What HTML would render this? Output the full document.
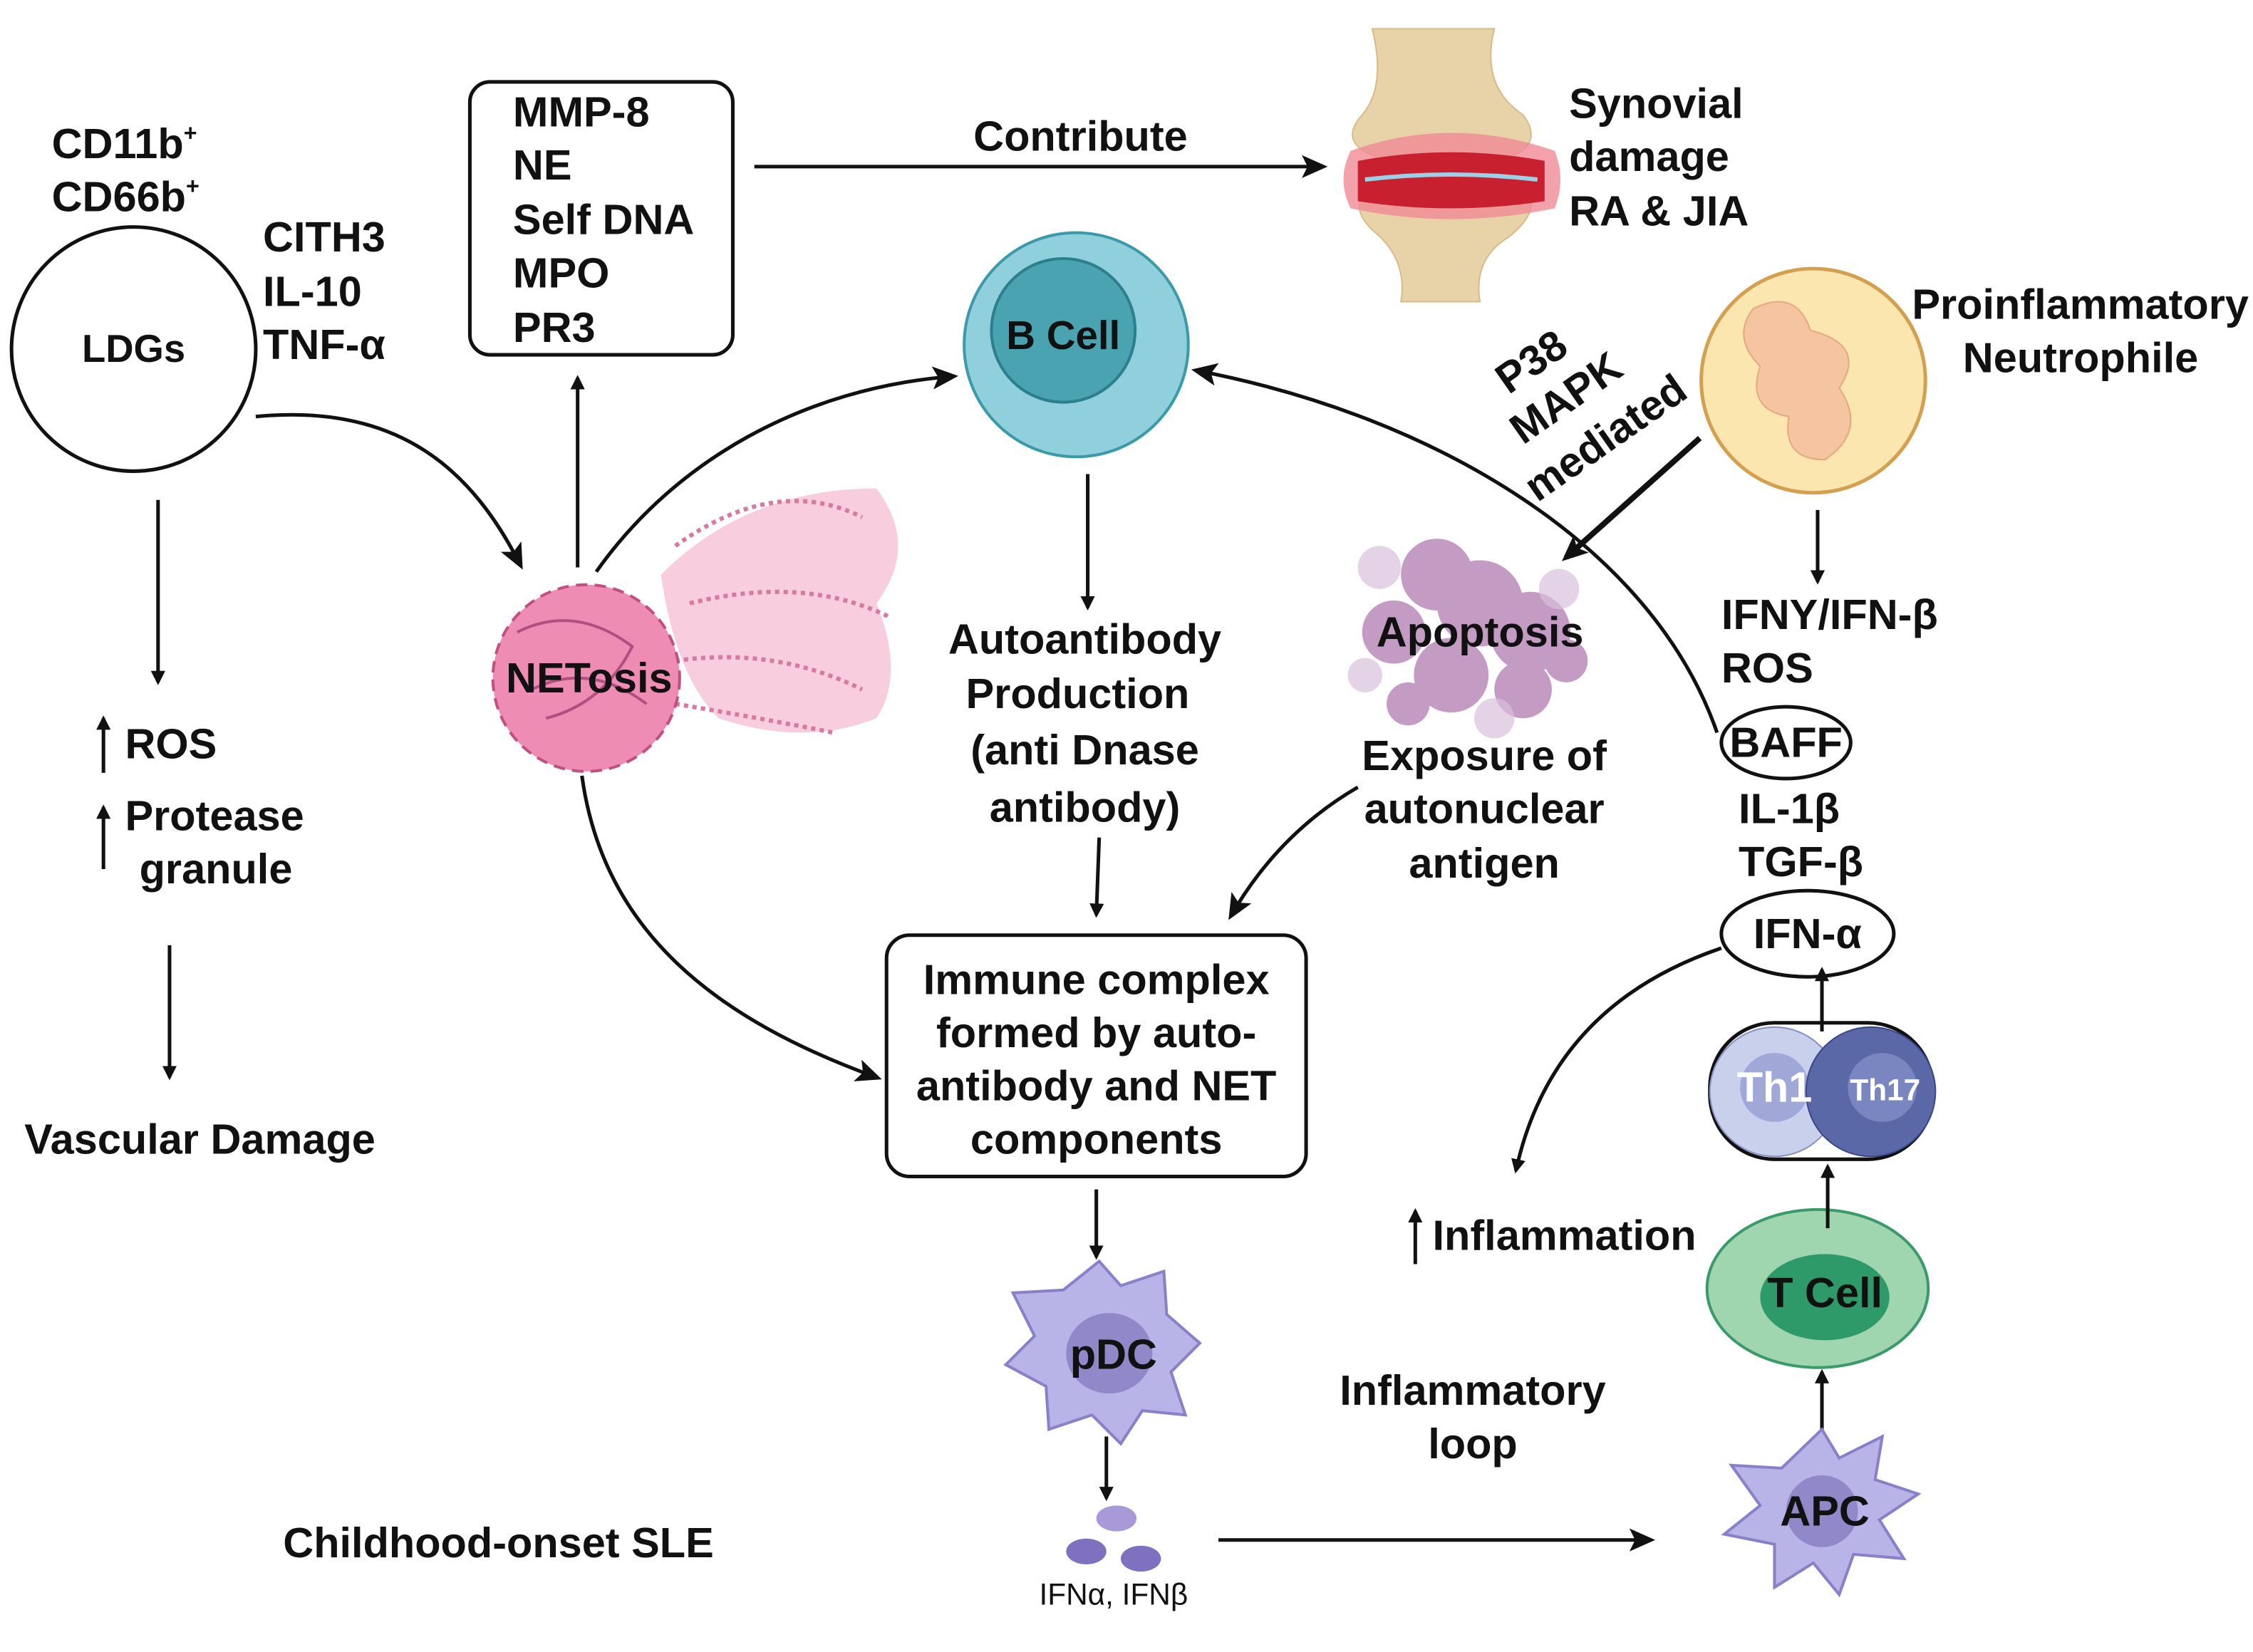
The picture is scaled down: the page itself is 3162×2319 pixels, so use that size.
<!DOCTYPE html>
<html><head><meta charset="utf-8"><style>
html,body{margin:0;padding:0;background:#fff}
svg{display:block}
text{font-family:"Liberation Sans",sans-serif;font-weight:bold;fill:#111}
</style></head><body>
<svg width="3162" height="2319" viewBox="0 0 1568 1150" preserveAspectRatio="none" xmlns="http://www.w3.org/2000/svg">
<defs>
<marker id="a" markerWidth="10" markerHeight="10" refX="8" refY="5" orient="auto" markerUnits="userSpaceOnUse" viewBox="0 0 10 10">
<path d="M0,0 L10,5 L0,10 z" fill="#111"/></marker>
<marker id="b" markerWidth="18" markerHeight="18" refX="14" refY="9" orient="auto" markerUnits="userSpaceOnUse" viewBox="0 0 18 18">
<path d="M0,1 L18,9 L0,17 L4,9 z" fill="#111"/></marker>
</defs>
<g font-size="29.5">
<text x="36" y="110">CD11b<tspan font-size="16" dy="-12">+</tspan></text>
<text x="36" y="147">CD66b<tspan font-size="16" dy="-12">+</tspan></text>
<circle cx="93" cy="243" r="85" fill="#fff" stroke="#111" stroke-width="2.5"/>
<text x="93" y="252" text-anchor="middle" font-size="27">LDGs</text>
<text x="183" y="175">CITH3</text>
<text x="183" y="213">IL-10</text>
<text x="183" y="250">TNF-α</text>
<rect x="327" y="57" width="183" height="190" rx="14" fill="#fff" stroke="#111" stroke-width="2.5"/>
<text x="357" y="88">MMP-8</text>
<text x="357" y="125">NE</text>
<text x="357" y="163">Self DNA</text>
<text x="357" y="200">MPO</text>
<text x="357" y="238">PR3</text>
<line x1="525" y1="116" x2="920" y2="116" stroke="#111" stroke-width="2.5" marker-end="url(#b)"/>
<text x="752" y="105" text-anchor="middle">Contribute</text>
<path d="M955,20 L1040,20 Q1030,60 1060,80 Q1075,100 1050,110 L960,110 Q930,100 948,80 Q965,60 955,20z" fill="#e8d2a8" stroke="#d9bb8a"/>
<path d="M960,130 L1060,130 Q1075,145 1050,165 Q1025,180 1030,210 L975,210 Q980,180 955,160 Q935,140 960,130z" fill="#e8d2a8" stroke="#d9bb8a"/>
<path d="M940,105 Q1010,80 1082,105 Q1090,125 1082,145 Q1010,160 940,145 Q930,125 940,105z" fill="#f08a96" opacity="0.8"/>
<path d="M945,112 Q1010,100 1075,112 L1075,140 Q1010,150 945,140z" fill="#c8202e"/>
<path d="M950,125 Q1010,118 1070,125" stroke="#9ad0e8" stroke-width="3" fill="none"/>
<text x="1092" y="82">Synovial</text>
<text x="1092" y="119">damage</text>
<text x="1092" y="157">RA &amp; JIA</text>
<circle cx="749" cy="240" r="78" fill="#8fd0dc" stroke="#3a9aaa" stroke-width="2"/>
<circle cx="740" cy="230" r="50" fill="#4aa3b0" stroke="#2c7f8c" stroke-width="2"/>
<text x="740" y="243" text-anchor="middle" font-size="28">B Cell</text>
<circle cx="1262" cy="265" r="78" fill="#fbe6b0" stroke="#d4a050" stroke-width="2.5"/>
<path d="M1220,215 Q1250,200 1260,230 Q1300,240 1280,270 Q1300,300 1270,320 Q1240,320 1245,290 Q1215,285 1225,255 Q1205,235 1220,215z" fill="#f5c4a0" stroke="#e5a880"/>
<text x="1565" y="222" text-anchor="end">Proinflammatory</text>
<text x="1448" y="259" text-anchor="middle">Neutrophile</text>
<text x="1050" y="275" transform="rotate(-35 1050 275)">P38</text>
<text x="1060" y="310" transform="rotate(-35 1060 310)">MAPK</text>
<text x="1070" y="350" transform="rotate(-35 1070 350)">mediated</text>
<line x1="1183" y1="305" x2="1090" y2="388" stroke="#111" stroke-width="4" marker-end="url(#b)"/>
<g fill="#b07ab0" opacity="0.75">
<circle cx="1000" cy="400" r="25"/><circle cx="1030" cy="420" r="30"/><circle cx="1065" cy="440" r="28"/><circle cx="970" cy="440" r="22"/><circle cx="1010" cy="470" r="26"/><circle cx="1060" cy="480" r="20"/><circle cx="980" cy="490" r="15"/><circle cx="1090" cy="460" r="15"/>
</g>
<g fill="#d8c0dc" opacity="0.7"><circle cx="960" cy="395" r="15"/><circle cx="1085" cy="410" r="14"/><circle cx="950" cy="470" r="12"/><circle cx="1040" cy="500" r="14"/></g>
<text x="1030" y="450" text-anchor="middle">Apoptosis</text>
<text x="1033" y="536" text-anchor="middle">Exposure of</text>
<text x="1033" y="573" text-anchor="middle">autonuclear</text>
<text x="1033" y="611" text-anchor="middle">antigen</text>
<path d="M945,548 Q890,580 857,637" fill="none" stroke="#111" stroke-width="2.5" marker-end="url(#b)"/>
<line x1="1265" y1="355" x2="1265" y2="405" stroke="#111" stroke-width="2.5" marker-end="url(#a)"/>
<text x="1198" y="438">IFNY/IFN-β</text>
<text x="1198" y="475">ROS</text>
<ellipse cx="1243" cy="517" rx="45" ry="25" fill="#fff" stroke="#111" stroke-width="2.5"/>
<text x="1243" y="527" text-anchor="middle">BAFF</text>
<text x="1210" y="573">IL-1β</text>
<text x="1210" y="610">TGF-β</text>
<ellipse cx="1258" cy="650" rx="60" ry="30" fill="#fff" stroke="#111" stroke-width="2.5"/>
<text x="1258" y="660" text-anchor="middle">IFN-α</text>
<path d="M1195,510 C1150,380 1000,290 833,258" fill="none" stroke="#111" stroke-width="2.5" marker-end="url(#b)"/>
<rect x="1190" y="712" width="155" height="95" rx="45" fill="#fff" stroke="#111" stroke-width="2.5"/>
<ellipse cx="1235" cy="760" rx="45" ry="45" fill="#c8d0ec" stroke="#8890c0"/>
<circle cx="1235" cy="757" r="24" fill="#a0a8d8"/>
<ellipse cx="1302" cy="760" rx="45" ry="45" fill="#5a68a8" stroke="#3a4888"/>
<circle cx="1310" cy="757" r="24" fill="#7a86c0"/>
<text x="1235" y="767" text-anchor="middle" style="fill:#fff">Th1</text>
<text x="1312" y="766" text-anchor="middle" font-size="21" style="fill:#fff">Th17</text>
<line x1="1268" y1="718" x2="1268" y2="675" stroke="#111" stroke-width="2.5" marker-end="url(#a)"/>
<path d="M1198,660 Q1080,700 1055,815" fill="none" stroke="#111" stroke-width="2.5" marker-end="url(#a)"/>
<ellipse cx="1265" cy="897" rx="77" ry="55" fill="#9fd6b0" stroke="#3a9a6a" stroke-width="2"/>
<ellipse cx="1270" cy="903" rx="45" ry="30" fill="#2e9a6a"/>
<text x="1270" y="910" text-anchor="middle">T Cell</text>
<line x1="1272" y1="855" x2="1272" y2="812" stroke="#111" stroke-width="2.5" marker-end="url(#a)"/>
<line x1="1268" y1="1000" x2="1268" y2="955" stroke="#111" stroke-width="2.5" marker-end="url(#a)"/>
<line x1="985" y1="880" x2="985" y2="843" stroke="#111" stroke-width="2.5" marker-end="url(#a)"/>
<text x="997" y="870">Inflammation</text>
<text x="1025" y="978" text-anchor="middle">Inflammatory</text>
<text x="1025" y="1015" text-anchor="middle">loop</text>
<path d="M1268,995 L1280,1015 L1310,1000 L1305,1030 L1335,1040 L1308,1058 L1325,1085 L1290,1082 L1280,1110 L1262,1088 L1235,1105 L1235,1075 L1200,1068 L1225,1048 L1205,1020 L1240,1022z" fill="#b8b4e8" stroke="#8880c8" stroke-width="2"/>
<circle cx="1268" cy="1052" r="25" fill="#9088c8"/>
<text x="1270" y="1062" text-anchor="middle">APC</text>
<line x1="848" y1="1072" x2="1148" y2="1072" stroke="#111" stroke-width="2.5" marker-end="url(#b)"/>
<ellipse cx="777" cy="1057" rx="14" ry="9" fill="#a89ad8"/>
<ellipse cx="756" cy="1080" rx="14" ry="9" fill="#8070c0"/>
<ellipse cx="794" cy="1085" rx="14" ry="9" fill="#8070c0"/>
<text x="775" y="1117" text-anchor="middle" font-size="21" style="font-weight:normal">IFNα, IFNβ</text>
<path d="M765,878 L780,895 L810,885 L812,915 L835,935 L815,955 L825,985 L795,982 L780,1005 L760,985 L730,995 L728,965 L700,950 L720,930 L705,900 L740,898z" fill="#b8b4e8" stroke="#8880c8" stroke-width="2"/>
<ellipse cx="772" cy="942" rx="30" ry="28" fill="#9088c8"/>
<text x="775" y="953" text-anchor="middle">pDC</text>
<line x1="763" y1="828" x2="763" y2="875" stroke="#111" stroke-width="2.5" marker-end="url(#a)"/>
<line x1="770" y1="1000" x2="770" y2="1043" stroke="#111" stroke-width="2.5" marker-end="url(#a)"/>
<rect x="617" y="651" width="292" height="168" rx="16" fill="#fff" stroke="#111" stroke-width="2.5"/>
<text x="763" y="692" text-anchor="middle">Immune complex</text>
<text x="763" y="729" text-anchor="middle">formed by auto-</text>
<text x="763" y="766" text-anchor="middle">antibody and NET</text>
<text x="763" y="803" text-anchor="middle">components</text>
<text x="755" y="455" text-anchor="middle">Autoantibody</text>
<text x="750" y="493" text-anchor="middle">Production</text>
<text x="755" y="532" text-anchor="middle">(anti Dnase</text>
<text x="755" y="572" text-anchor="middle">antibody)</text>
<line x1="757" y1="330" x2="757" y2="423" stroke="#111" stroke-width="2.5" marker-end="url(#a)"/>
<line x1="765" y1="583" x2="763" y2="637" stroke="#111" stroke-width="2.5" marker-end="url(#a)"/>
<path d="M460,400 Q520,340 610,340 Q640,380 610,420 Q630,470 610,500 Q560,520 500,500 Q470,470 460,400z" fill="#f6c0d4" opacity="0.8"/>
<path d="M470,380 Q540,330 600,360 M480,420 Q560,400 620,430 M470,460 Q540,450 600,480 M470,490 Q530,500 580,510" stroke="#d87aa0" stroke-width="3" fill="none" stroke-dasharray="3,3"/>
<circle cx="408" cy="472" r="65" fill="#ef8cb4" stroke="#c05080" stroke-width="2" stroke-dasharray="8,5"/>
<path d="M360,440 Q400,420 440,450 Q420,490 380,500 M370,480 Q410,460 450,490" stroke="#b05080" stroke-width="2" fill="none"/>
<text x="410" y="482" text-anchor="middle">NETosis</text>
<line x1="402" y1="395" x2="402" y2="263" stroke="#111" stroke-width="2.5" marker-end="url(#a)"/>
<path d="M178,290 C280,280 330,330 362,393" fill="none" stroke="#111" stroke-width="2.5" marker-end="url(#b)"/>
<path d="M415,398 C470,320 560,270 663,262" fill="none" stroke="#111" stroke-width="2.5" marker-end="url(#b)"/>
<path d="M405,540 C420,650 500,710 610,750" fill="none" stroke="#111" stroke-width="2.5" marker-end="url(#b)"/>
<line x1="110" y1="348" x2="110" y2="475" stroke="#111" stroke-width="2.5" marker-end="url(#a)"/>
<line x1="72" y1="538" x2="72" y2="500" stroke="#111" stroke-width="2.5" marker-end="url(#a)"/>
<text x="87" y="528">ROS</text>
<line x1="72" y1="605" x2="72" y2="562" stroke="#111" stroke-width="2.5" marker-end="url(#a)"/>
<text x="87" y="578">Protease</text>
<text x="97" y="615">granule</text>
<line x1="118" y1="658" x2="118" y2="750" stroke="#111" stroke-width="2.5" marker-end="url(#a)"/>
<text x="17" y="803">Vascular Damage</text>
<text x="197" y="1084">Childhood-onset SLE</text>
</g>
</svg>
</body></html>
